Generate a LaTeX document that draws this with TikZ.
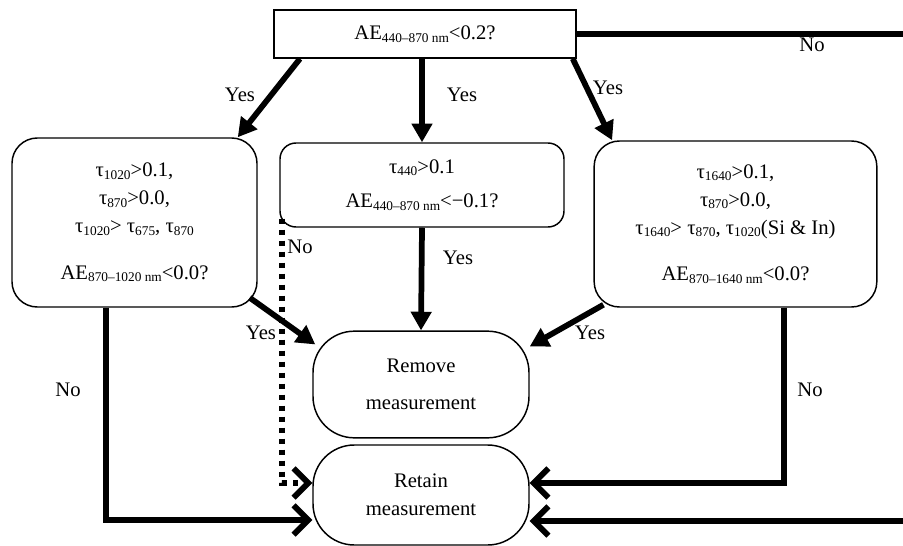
\documentclass[tikz,border=0pt]{standalone}
\usepackage{fontspec}
\setmainfont{Liberation Serif}
\usetikzlibrary{arrows.meta}
% lowered small index for tau and AE
\newcommand{\ix}[1]{\raisebox{-2pt}{\fontsize{10}{10}\selectfont #1}}

\begin{document}
\begin{tikzpicture}[x=0.75pt, y=-0.75pt,
    txt/.style={font=\fontsize{15.5}{21}\selectfont, align=center, inner sep=0pt},
    box/.style={txt, draw, line width=1.1pt},
    cond/.style={box, rounded corners=19pt},
    term/.style={box, rounded corners=31pt, minimum width=162pt},
    yes/.style={line width=4.3pt, -{Triangle[length=14pt, width=15pt]}},
    no/.style={line width=4.3pt, -{Straight Barb[length=11pt, width=22pt]}},
    dotline/.style={no, dash pattern=on 3.75pt off 4.5pt},
    lbl/.style={font=\fontsize{15.5}{18}\selectfont, inner sep=0pt}]
  \useasboundingbox (0,0) rectangle (903,546);

  % decisions
  \node[box, minimum width=226.5pt, minimum height=36pt] (top) at (425,34)
    {AE\ix{440–870 nm}<0.2?};
  \node[cond, minimum width=183.75pt, minimum height=126.75pt] (left) at (134.5,222.5)
    {τ\ix{1020}>0.1,\\ τ\ix{870}>0.0,\\ τ\ix{1020}> τ\ix{675}, τ\ix{870}\\[14pt]
     AE\ix{870–1020 nm}<0.0?};
  \node[cond, rounded corners=12pt, minimum width=213pt, minimum height=63pt] (mid) at (422,185)
    {τ\ix{440}>0.1\\[5pt] AE\ix{440–870 nm}<−0.1?};
  \node[cond, minimum width=212pt, minimum height=124.5pt] (right) at (735.5,224)
    {τ\ix{1640}>0.1,\\ τ\ix{870}>0.0,\\ τ\ix{1640}> τ\ix{870}, τ\ix{1020}(Si \& In)\\[14pt]
     AE\ix{870–1640 nm}<0.0?};

  % outcomes
  \node[term, minimum height=80pt] (remove) at (421,384.5) {Remove\\[7pt] measurement};
  \node[term, minimum height=75pt] (retain) at (421,495) {Retain\\ measurement};

  % yes branches
  \draw[yes] ([xshift=20pt]top.south west) -- ([xshift=-15pt]left.north east);
  \draw[yes] (top.south -| mid.north) -- (mid.north);
  \draw[yes] ([xshift=-3pt]top.south east) -- ([xshift=14pt]right.north west);
  \draw[yes] ([shift={(-8,-10)}]left.south east) -- ([shift={(3,14)}]remove.north west);
  \draw[yes] (mid.south) -- (remove.north);
  \draw[yes] ([shift={(10,-3)}]right.south west) -- ([shift={(0,16)}]remove.north east);

  % no branches
  \draw[no] ([xshift=-21.4pt]left.south) |- ([yshift=-18.75pt]retain.west);
  \draw[dotline] ([shift={(3,-9)}]mid.south west) |- ([yshift=9pt]retain.west);
  \draw[no] ([xshift=36.4pt]right.south) |- ([yshift=9pt]retain.east);
  \draw[no] (top.east) -- ++(345,0) |- ([yshift=-19.5pt]retain.east);

  % labels
  \node[lbl] (y1) at (240,95) {Yes};
  \node[lbl] (y2) at (462,95) {Yes};
  \node[lbl] (y3) at (608,88) {Yes};
  \node[lbl] (y4) at (261,333) {Yes};
  \node[lbl] (y5) at (458,258) {Yes};
  \node[lbl] (y6) at (590,333) {Yes};
  \node[lbl] (n1) at (68,390) {No};
  \node[lbl] (n2) at (300,247) {No};
  \node[lbl] (n3) at (810,390) {No};
  \node[lbl] (n4) at (812,45) {No};
\end{tikzpicture}
\end{document}
